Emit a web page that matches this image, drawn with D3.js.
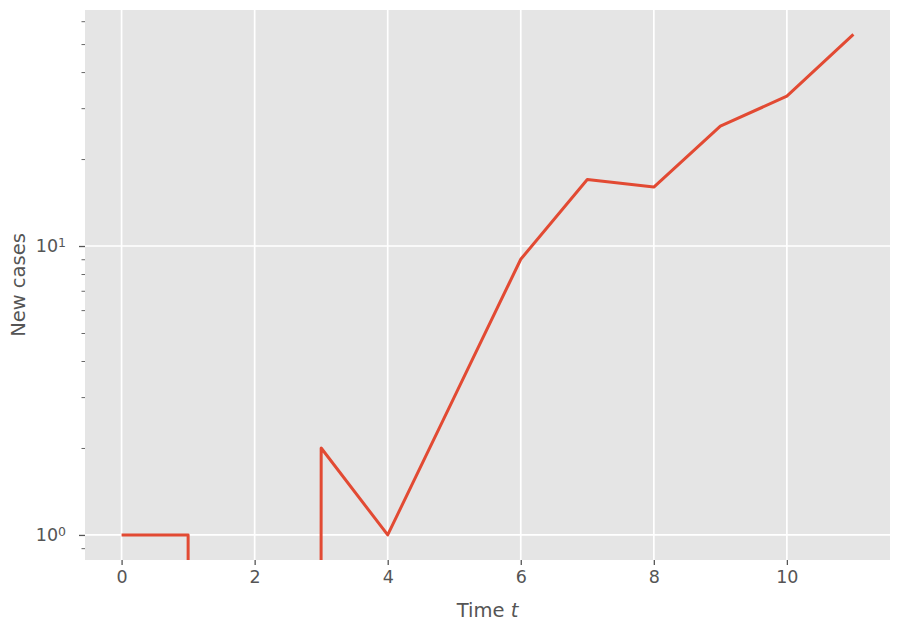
<!DOCTYPE html>
<html>
<head>
<meta charset="utf-8">
<script src="https://cdn.jsdelivr.net/npm/d3@7"></script>
<style>
  body { margin: 0; background: #fff; }
  text { font-family: "DejaVu Sans", sans-serif; fill: #555555; }
</style>
</head>
<body>
<div class="chart"></div>
<script>
// data
var days = [0, 1, 2, 3, 4, 5, 6, 7, 8, 9, 10, 11];
var newCases = [1, 1, 0, 2, 1, 3, 9, 17, 16, 26, 33, 54];
var xTicks = [0, 2, 4, 6, 8, 10];
var yMajorTicks = [1, 10];
var yMinorTicks = [0.9, 2, 3, 4, 5, 6, 7, 8, 9, 20, 30, 40, 50, 60];

var svgWidth = 900;
var svgHeight = 630;

var margin = { top: 10, right: 10, bottom: 70, left: 85 };

var width = svgWidth - margin.left - margin.right;
var height = svgHeight - margin.top - margin.bottom;

var svg = d3.select(".chart")
  .append("svg")
  .attr("width", svgWidth)
  .attr("height", svgHeight);

var chartGroup = svg.append("g")
  .attr("transform", `translate(${margin.left}, ${margin.top})`);

// scales
var xScale = d3.scaleLinear()
  .domain([-0.55, 11.55])
  .range([0, width]);

var yScale = d3.scaleLog()
  .domain([0.819, 65.6])
  .range([height, 0]);

// background
chartGroup.append("rect")
  .attr("width", width)
  .attr("height", height)
  .attr("fill", "#E5E5E5");

svg.append("defs").append("clipPath")
  .attr("id", "plotClip")
  .append("rect")
  .attr("width", width)
  .attr("height", height);

// grid
chartGroup.selectAll(".xgrid").data(xTicks).enter()
  .append("line")
  .attr("x1", d => xScale(d)).attr("x2", d => xScale(d))
  .attr("y1", 0).attr("y2", height)
  .attr("stroke", "#fff").attr("stroke-width", 1.7);

chartGroup.selectAll(".ygrid").data(yMajorTicks).enter()
  .append("line")
  .attr("x1", 0).attr("x2", width)
  .attr("y1", d => yScale(d)).attr("y2", d => yScale(d))
  .attr("stroke", "#fff").attr("stroke-width", 1.7);

// axes
var bottomAxis = d3.axisBottom(xScale)
  .tickValues(xTicks)
  .tickSize(5)
  .tickPadding(6)
  .tickFormat(d3.format("d"));

var xAxisG = chartGroup.append("g")
  .attr("transform", `translate(0, ${height})`)
  .call(bottomAxis);
xAxisG.select(".domain").remove();
xAxisG.selectAll("line").attr("stroke", "#555").attr("stroke-width", 1.3);
xAxisG.selectAll("text")
  .style("font-size", "17.5px")
  .style("font-family", "DejaVu Sans")
  .attr("fill", "#555");

var leftAxis = d3.axisLeft(yScale)
  .tickValues(yMajorTicks)
  .tickSize(6)
  .tickPadding(6)
  .tickFormat("");

var yAxisG = chartGroup.append("g").call(leftAxis);
yAxisG.select(".domain").remove();
yAxisG.selectAll("line").attr("stroke", "#555").attr("stroke-width", 1.3);

var minorAxis = d3.axisLeft(yScale)
  .tickValues(yMinorTicks)
  .tickSize(3.5)
  .tickFormat("");
var minorG = chartGroup.append("g").call(minorAxis);
minorG.select(".domain").remove();
minorG.selectAll("line").attr("stroke", "#555").attr("stroke-width", 0.9);

// 10^n labels with superscript
var yLabels = chartGroup.selectAll(".ylab").data(yMajorTicks).enter()
  .append("text")
  .attr("x", -19)
  .attr("y", d => yScale(d))
  .attr("dy", "0.36em")
  .attr("text-anchor", "end")
  .style("font-size", "17.5px");
yLabels.append("tspan").text("10");
yLabels.append("tspan")
  .attr("dy", "-0.45em")
  .style("font-size", "12.5px")
  .text(d => Math.round(Math.log10(d)));

// line, zeros clipped to a tiny value like a log axis does
var line = d3.line()
  .x((d, i) => xScale(days[i]))
  .y(d => yScale(Math.max(d, 1e-300)));

chartGroup.append("path")
  .datum(newCases)
  .attr("clip-path", "url(#plotClip)")
  .attr("d", line)
  .attr("fill", "none")
  .attr("stroke", "#E24A33")
  .attr("stroke-width", 3)
  .attr("stroke-linejoin", "round");

// axis labels
var xLabel = chartGroup.append("text")
  .attr("x", width / 2)
  .attr("y", height + 57)
  .attr("text-anchor", "middle")
  .style("font-size", "19.5px");
xLabel.append("tspan").text("Time ");
xLabel.append("tspan").style("font-style", "italic").text("t");

chartGroup.append("text")
  .attr("transform", "rotate(-90)")
  .attr("x", -height / 2)
  .attr("y", -margin.left + 25)
  .attr("text-anchor", "middle")
  .style("font-size", "19.5px")
  .text("New cases");
</script>
</body>
</html>
